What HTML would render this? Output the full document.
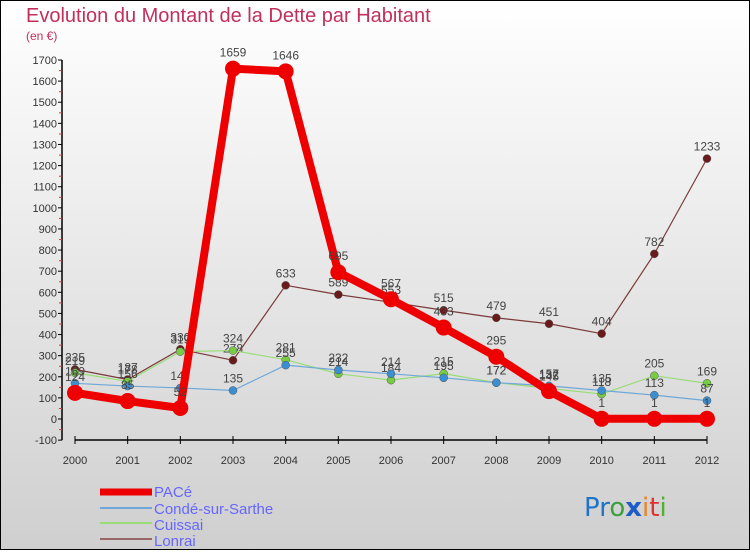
<!DOCTYPE html>
<html><head><meta charset="utf-8"><style>
body{margin:0;width:750px;height:550px;overflow:hidden;font-family:"Liberation Sans",sans-serif}
</style></head><body>
<svg width="750" height="550" xmlns="http://www.w3.org/2000/svg">
<defs><linearGradient id="bg" x1="0" y1="0" x2="0" y2="1"><stop offset="0" stop-color="#ffffff"/><stop offset="1" stop-color="#cfcfcf"/></linearGradient></defs>
<rect x="0" y="0" width="750" height="550" fill="url(#bg)" stroke="#000" stroke-width="2"/>
<text x="26" y="22" font-size="20" fill="#c0305a">Evolution du Montant de la Dette par Habitant</text>
<text x="26" y="40" font-size="12" fill="#c0305a">(en €)</text>
<g id="axes"></g><g id="series"></g>
<g font-size="15" fill="#6666ff">
<line x1="100" y1="492" x2="152" y2="492" stroke="#ee0000" stroke-width="7"/>
<text x="154" y="497">PACé</text>
<line x1="100" y1="508" x2="152" y2="508" stroke="#6fa8d8" stroke-width="2"/>
<text x="154" y="514">Condé-sur-Sarthe</text>
<line x1="100" y1="523" x2="152" y2="523" stroke="#99dd77" stroke-width="2"/>
<text x="154" y="530">Cuissai</text>
<line x1="100" y1="539" x2="152" y2="539" stroke="#996666" stroke-width="2"/>
<text x="154" y="546">Lonrai</text>
</g>
<text x="584" y="516" font-size="26" font-family="'DejaVu Sans',sans-serif"><tspan fill="#1e73c8">Pr</tspan><tspan fill="#3aa040">o</tspan><tspan fill="#1e5cc8" font-weight="bold">x</tspan><tspan fill="#f08020">i</tspan><tspan fill="#e03030">t</tspan><tspan fill="#50b030">i</tspan></text>
</svg>
<script>
const years=[2000,2001,2002,2003,2004,2005,2006,2007,2008,2009,2010,2011,2012];
const yTicks=[-100,0,100,200,300,400,500,600,700,800,900,1000,1100,1200,1300,1400,1500,1600,1700];
const pace=[124,85,52,1659,1646,695,567,433,295,132,1,1,1];
const conde=[169,156,147,135,255,232,214,195,172,157,135,113,87];
const cuissai=[219,178,319,324,281,214,184,215,172,145,118,205,169];
const lonrai=[235,187,330,278,633,589,553,515,479,451,404,782,1233];
const NS="http://www.w3.org/2000/svg";
const X=i=>75+i*(707-75)/12;
const Y=v=>419-v*(419-60)/1700;
function mk(tag,at,parent){const e=document.createElementNS(NS,tag);for(const k in at)e.setAttribute(k,at[k]);parent.appendChild(e);return e;}
const ax=document.getElementById('axes');
let l=mk('line',{x1:62,y1:Y(1700),x2:62,y2:Y(-100),stroke:'#000','stroke-width':1.5},ax);


yTicks.forEach((t,i)=>{
 const y=Y(t);
 let tk=mk('line',{x1:58,y1:y,x2:62,y2:y,stroke:'#000'},ax);
 
 
 if(i<yTicks.length-1){let m=mk('line',{x1:59,y1:y-10.5,x2:62,y2:y-10.5,stroke:'#e03030'},ax);
 
 }
 let tx=mk('text',{x:57,y:y+4,'text-anchor':'end','font-size':11,fill:'#333'},ax);tx.textContent=t;
 
 
});
let xa=mk('line',{x1:75,y1:440,x2:707,y2:440,stroke:'#000','stroke-width':1.5},ax);


years.forEach((yr,i)=>{
 let tk=mk('line',{x1:X(i),y1:436,x2:X(i),y2:444,stroke:'#000'},ax);
 
 
 let tx=mk('text',{x:X(i),y:464,'text-anchor':'middle','font-size':11,fill:'#333'},ax);tx.textContent=yr;
 
 
});
const sg=document.getElementById('series');
function series(vals,color,dot,w,r,name,big){
 const g=mk('g',{},sg);
 
 
 let p=mk('polyline',{points:vals.map((v,i)=>X(i)+','+Y(v)).join(' '),fill:'none',stroke:color,'stroke-width':w,'stroke-linejoin':'round'},g);
 
 
 vals.forEach((v,i)=>{
  let c=mk('circle',{cx:X(i),cy:Y(v),r:r,fill:dot,stroke:big?'none':'#555','stroke-width':0.5},g);
  
  
  let t=mk('text',{x:X(i),y:Y(v)-(big?12:8),'text-anchor':'middle','font-size':12,fill:'#444'},g);t.textContent=v;
  
  
 });
}
series(lonrai,'#7a3a3a','#6a1a1a',1.2,4,'lonrai',false);
series(cuissai,'#99dd77','#77cc44',1.2,4,'cuissai',false);
series(conde,'#6fa8d8','#3b8ed0',1.2,4,'conde',false);
series(pace,'#ee0000','#ee0000',8,8,'pace',true);
</script>
</body></html>
